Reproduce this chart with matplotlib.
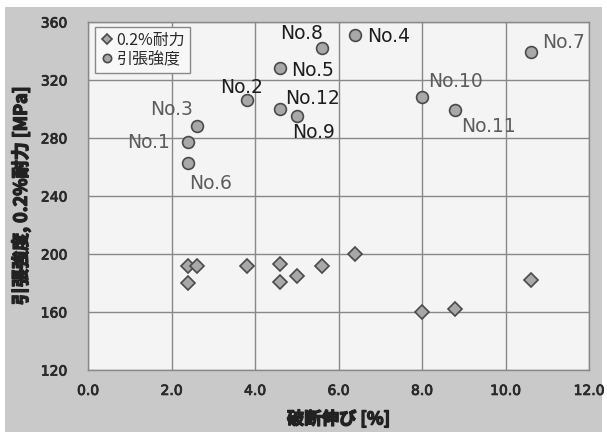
import matplotlib
matplotlib.use("Agg")
import matplotlib.pyplot as plt
from matplotlib.patches import Rectangle
import matplotlib.patheffects as pe

plt.rcParams['font.family'] = ['DejaVu Sans', 'Noto Sans CJK JP']

# Data
labels = ["No.1", "No.2", "No.3", "No.4", "No.5", "No.6",
          "No.7", "No.8", "No.9", "No.10", "No.11", "No.12"]
elongation = [2.4, 3.8, 2.6, 6.4, 4.6, 2.4, 10.6, 5.6, 5.0, 8.0, 8.8, 4.6]
tensile = [277, 306, 288, 351, 328, 263, 339, 342, 295, 308, 299, 300]
proof = [192, 192, 192, 200, 193, 180, 182, 192, 185, 160, 162, 181]
label_dark = [False, True, False, True, True, False, False, True, True, False, False, True]
# label offsets in pixels (dx, dy)
label_offsets = {
    "No.1": (-40, 0), "No.2": (-5, 13), "No.3": (-25, 17), "No.4": (33, -1),
    "No.5": (33, -2), "No.6": (22, -21), "No.7": (33, 10), "No.8": (-20, 15),
    "No.9": (17, -16), "No.10": (33, 16), "No.11": (33, -16), "No.12": (32, 11),
}
x_ticks = [0, 2, 4, 6, 8, 10, 12]
y_ticks = [120, 160, 200, 240, 280, 320, 360]

fig = plt.figure(figsize=(6.07, 4.32), dpi=100, facecolor='white')
fig.patches.append(Rectangle((5/607, 0), 597/607, 425/432, transform=fig.transFigure,
                             facecolor='#c9c9c9', edgecolor='none', zorder=-10))
ax = fig.add_axes([88/607, 1-370/432, 501/607, 348/432])
ax.set_facecolor('#f4f4f4')

ax.plot(elongation, proof, linestyle='none', marker='D', markersize=7.3,
        markerfacecolor='#a8a8a8', markeredgecolor='#4a4a4a', markeredgewidth=1.2,
        label='0.2%耐力', zorder=3)
ax.plot(elongation, tensile, linestyle='none', marker='o', markersize=8.5,
        markerfacecolor='#a8a8a8', markeredgecolor='#4a4a4a', markeredgewidth=1.2,
        label='引張強度', zorder=3)

for lab, x, y, dark in zip(labels, elongation, tensile, label_dark):
    dx, dy = label_offsets[lab]
    ax.annotate(lab, (x, y), xytext=(dx, dy), textcoords='offset pixels',
                ha='center', va='center', fontsize=13.5,
                color='#1e1e1e' if dark else '#5c5c5c', zorder=4)

ax.set_xlim(0, 12)
ax.set_ylim(120, 360)
ax.set_xticks(x_ticks)
ax.set_xticklabels([f"{v:.1f}" for v in x_ticks])
ax.set_yticks(y_ticks)
ax.set_yticklabels([str(v) for v in y_ticks])
ax.tick_params(length=0, labelsize=10, labelcolor='#2a2a2a')
ax.tick_params(axis='x', pad=10)
ax.tick_params(axis='y', pad=15)
tick_fx = [pe.withStroke(linewidth=0.6, foreground='#2a2a2a')]
for t in ax.get_xticklabels() + ax.get_yticklabels():
    t.set_path_effects(tick_fx)
ax.grid(True, color='#888888', linewidth=1)
ax.set_axisbelow(True)
for s in ax.spines.values():
    s.set_color('#888888')
    s.set_linewidth(1)

cjk = ['Noto Sans CJK JP', 'DejaVu Sans']
bold_fx = [pe.withStroke(linewidth=1.0, foreground='#222222')]
xl = ax.set_xlabel('破断伸び [%]', fontsize=12.5, fontweight='bold', color='#222222',
                   labelpad=9, family=cjk)
yl = ax.set_ylabel('引張強度, 0.2%耐力 [MPa]', fontsize=13, fontweight='bold', color='#222222',
                   labelpad=7, family=cjk)
xl.set_path_effects(bold_fx)
yl.set_path_effects(bold_fx)

leg = ax.legend(loc='upper left', bbox_to_anchor=(0.014, 0.986), borderaxespad=0,
                fontsize=11.5, markerscale=0.7, handletextpad=0.15, handlelength=0.9,
                borderpad=0.3, labelspacing=0.15, fancybox=False,
                framealpha=1, facecolor='#f8f8f8', edgecolor='#888888')
for t in leg.get_texts():
    t.set_color('#2a2a2a')
    t.set_family(cjk)

fig.savefig('out.png', dpi=100)
